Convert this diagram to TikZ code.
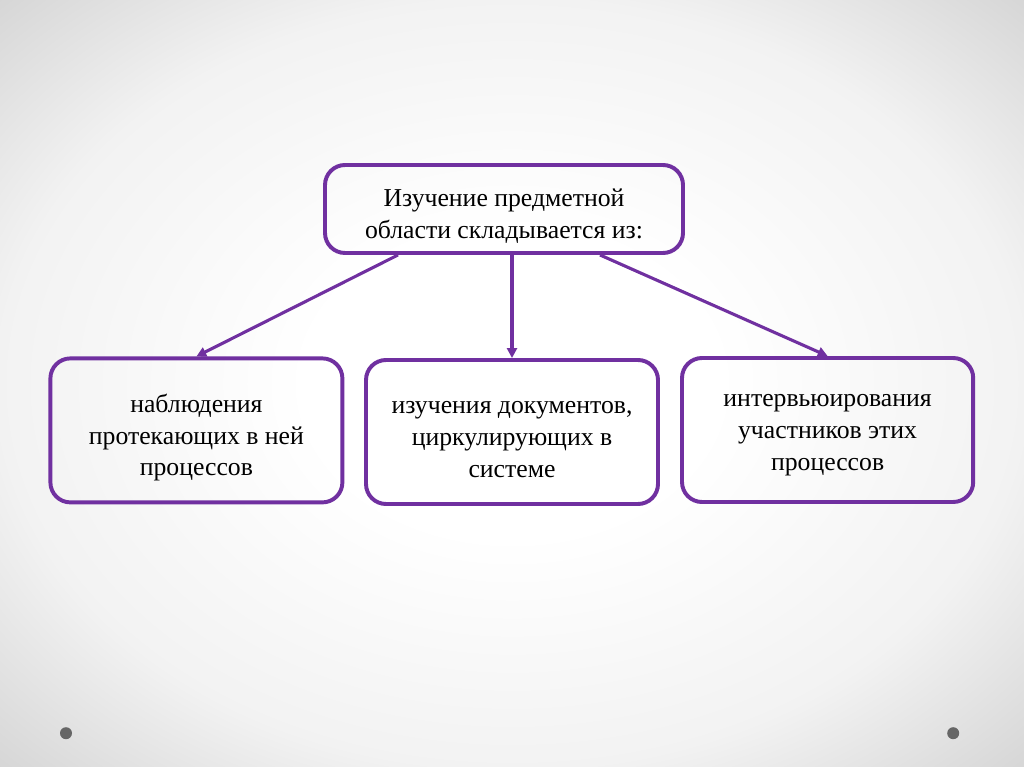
\documentclass[tikz,border=0pt]{standalone}
\usepackage{fontspec}
\setmainfont{Liberation Serif}
\usetikzlibrary{arrows.meta}
\definecolor{boxpurple}{HTML}{7030A0}
\pgfdeclareradialshading{slidebg}{\pgfpoint{0bp}{0bp}}{color(0bp)=(white); color(10bp)=(white); color(25bp)=(black!5); color(35.4bp)=(black!16); color(50bp)=(black!16)}
\begin{document}
\begin{tikzpicture}[>={Triangle[length=7pt,width=7pt]},
  frame/.style={draw=boxpurple, line width=2.8pt, rounded corners=0.5cm},
  part/.style={frame, minimum width=7.3cm, minimum height=3.6cm},
  words/.style={align=center, font=\fontsize{18.3}{22.7}\selectfont},
  link/.style={->, draw=boxpurple, line width=2.2pt},
  dot/.style={circle, fill=black!60, inner sep=0pt, minimum size=0.3cm}]
\shade[shading=slidebg] (0,0) rectangle (25.6,-19.175);
\useasboundingbox (0,0) rectangle (25.6,-19.175);
\node[frame, minimum width=8.95cm, minimum height=2.2cm] (n1) at (12.6,-5.225) {};
\node[part] (n2) at (4.91,-10.76) {};
\node[part] (n3) at (12.8,-10.8) {};
\node[part, minimum width=7.28cm] (n4) at (20.69,-10.75) {};
\node[words] (t1) at ([yshift=-0.18cm]n1) {Изучение предметной\\области складывается из:};
\node[words] (t2) at ([yshift=-0.18cm]n2) {наблюдения\\протекающих в ней\\процессов};
\node[words] (t3) at ([yshift=-0.18cm]n3) {изучения документов,\\циркулирующих в\\системе};
\node[words] (t4) at ([yshift=-0.12cm]n4) {интервьюирования\\участников этих\\процессов};
\draw[link] ([xshift=-2.65cm]n1.south) -- (n2.north);
\draw[link] (n1.south -| n3.north) -- (n3.north);
\draw[link] ([xshift=2.4cm]n1.south) -- (n4.north);
\node[dot] (d1) at (1.65,-18.33) {};
\node[dot] (d2) at (23.83,-18.33) {};
\end{tikzpicture}
\end{document}
